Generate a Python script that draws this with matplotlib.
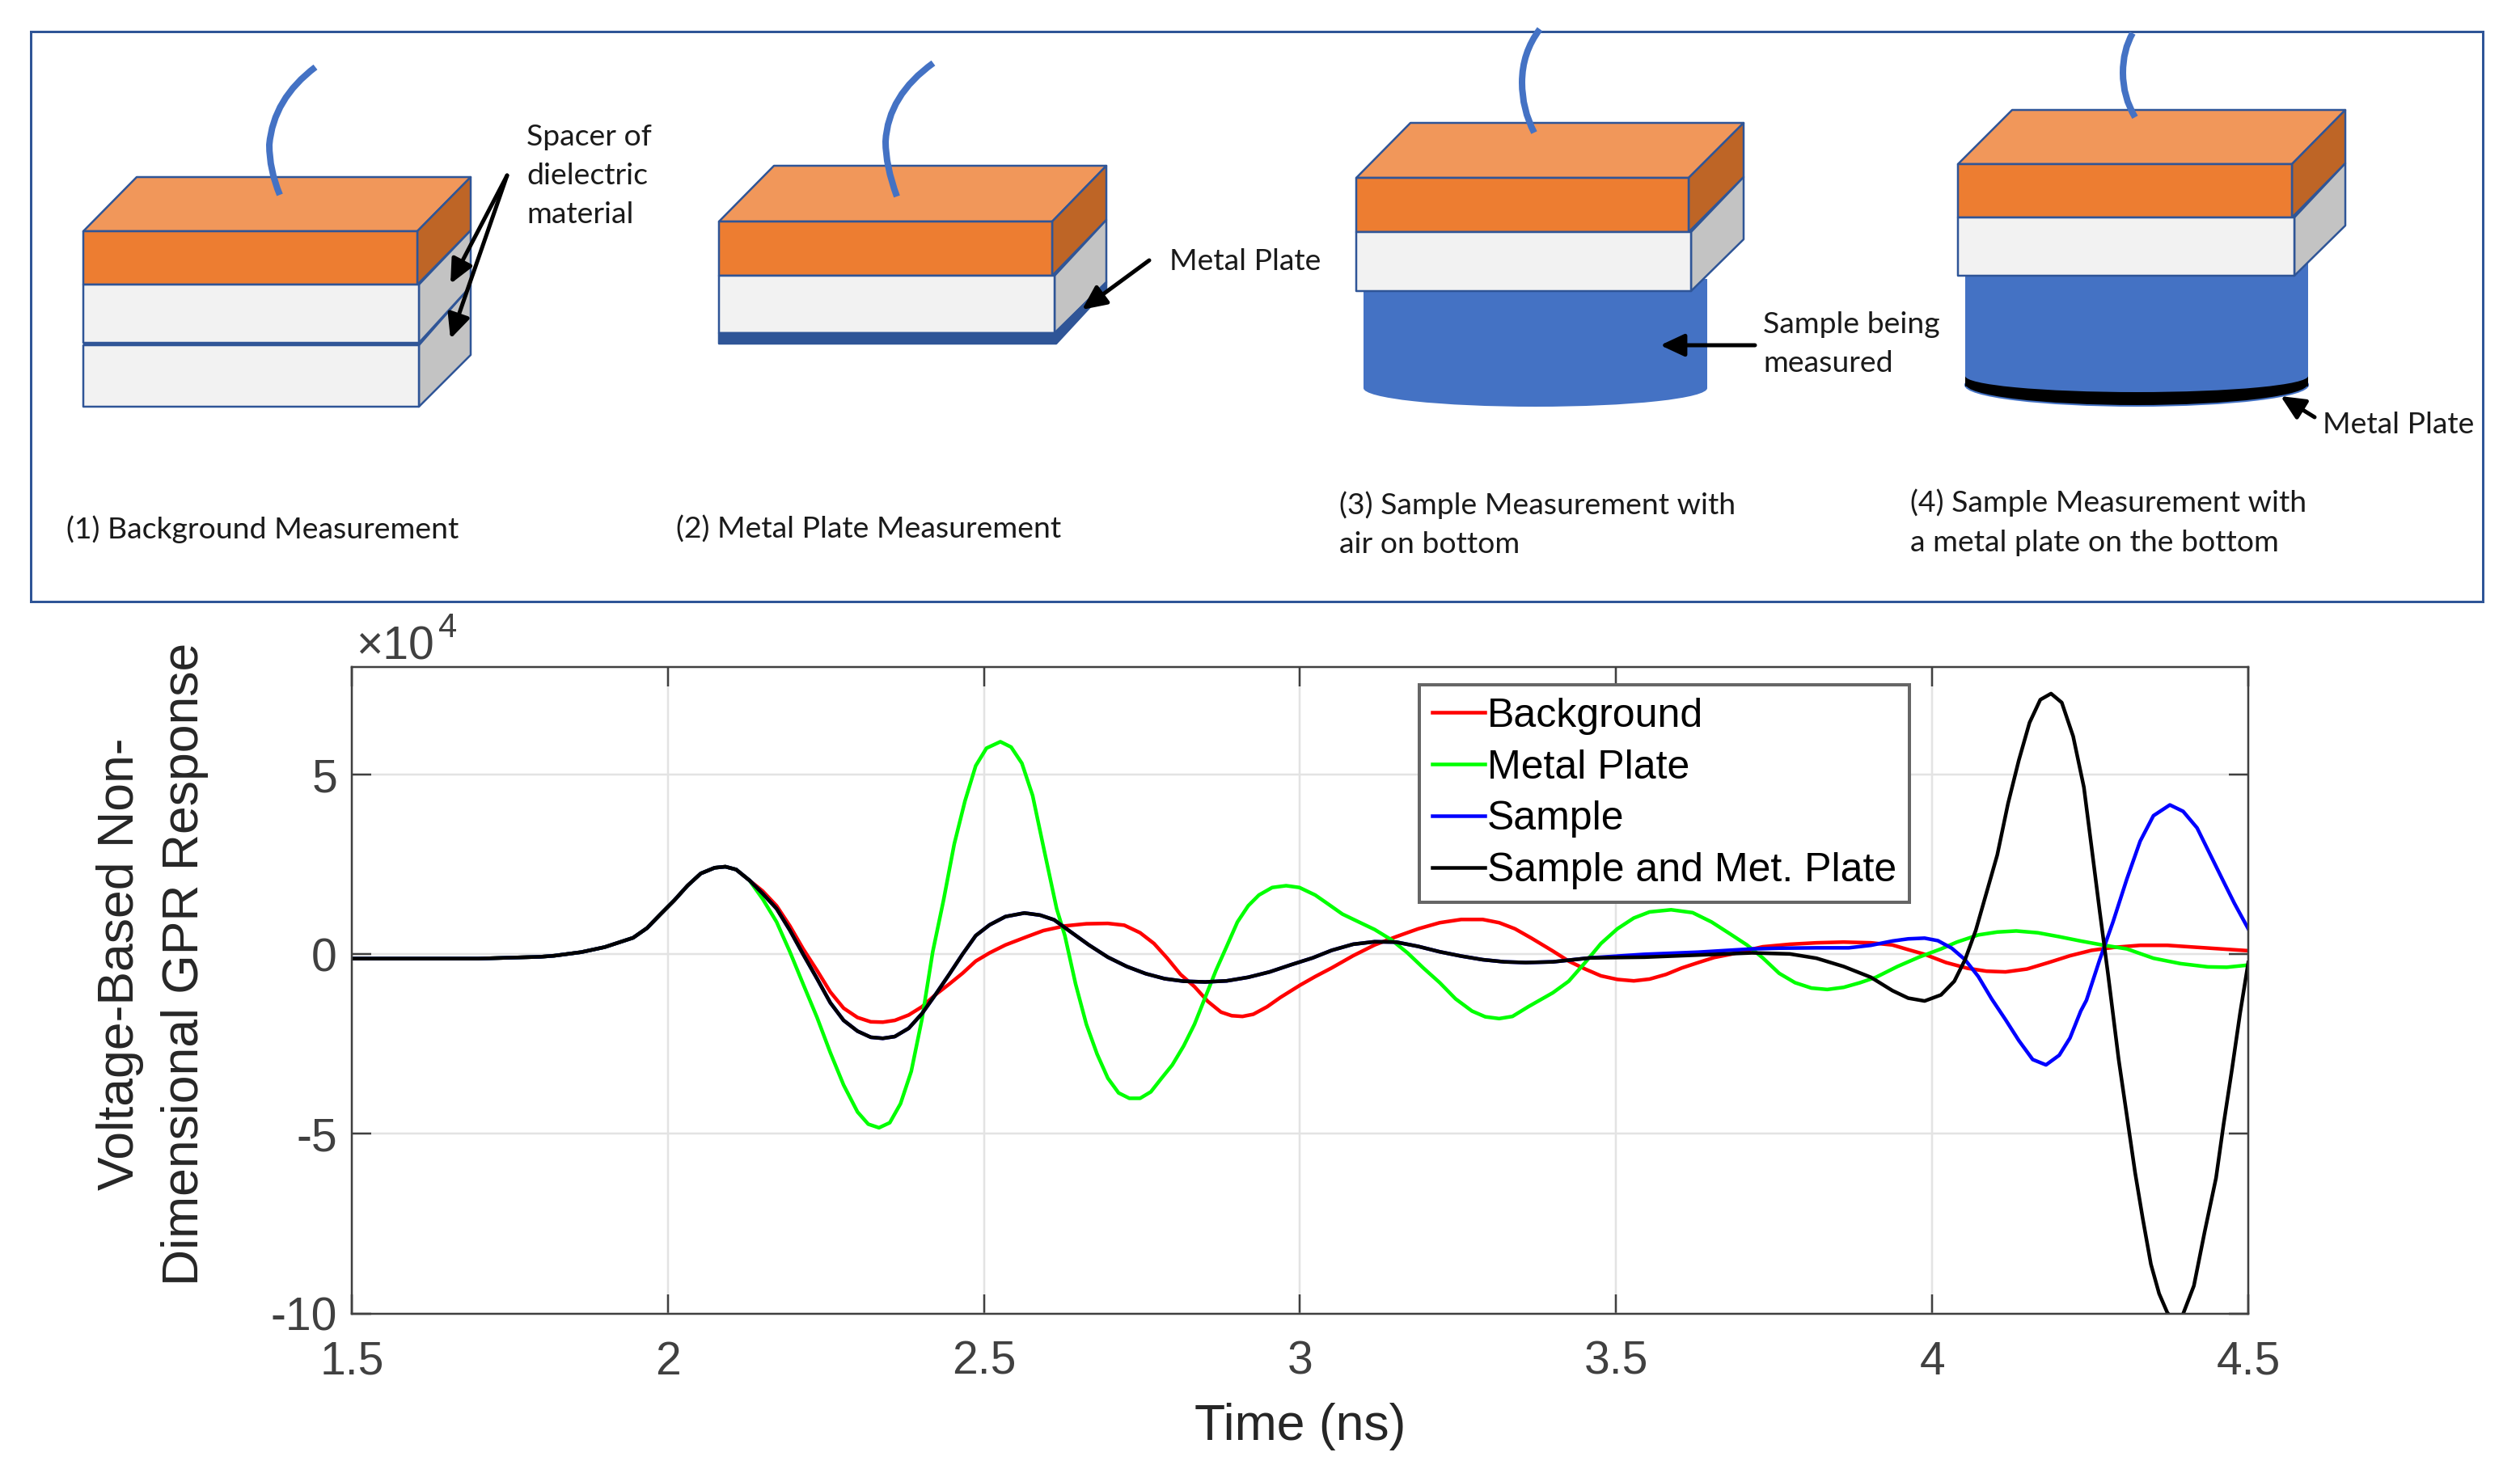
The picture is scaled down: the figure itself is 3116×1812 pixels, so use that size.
import matplotlib
matplotlib.use('Agg')
import matplotlib.pyplot as plt
from matplotlib.patches import Polygon, Rectangle, Ellipse, PathPatch
from matplotlib.path import Path

W, H = 3116, 1812
DPI = 200
px = 72 / DPI

# values, y in units of 1e4
t_rise = [1.5, 1.6, 1.7, 1.798, 1.82, 1.863, 1.9, 1.945, 1.967, 1.988, 2.01, 2.031, 2.052, 2.074, 2.091, 2.108, 2.129]
y_rise = [-0.12, -0.12, -0.12, -0.07, -0.04, 0.06, 0.2, 0.46, 0.73, 1.11, 1.5, 1.91, 2.25, 2.41, 2.44, 2.36, 2.06]

t_red = [2.15, 2.172, 2.193, 2.214, 2.236, 2.257, 2.278, 2.3, 2.321, 2.34, 2.359, 2.381, 2.402, 2.423, 2.445, 2.466,
         2.487, 2.509, 2.534, 2.568, 2.594, 2.628, 2.662, 2.696, 2.722, 2.747, 2.769, 2.79, 2.811, 2.833, 2.854,
         2.875, 2.892, 2.909, 2.926, 2.948, 2.969, 3.0, 3.024, 3.05, 3.084, 3.118, 3.152, 3.187, 3.221, 3.255,
         3.289, 3.315, 3.34, 3.366, 3.4, 3.425, 3.451, 3.476, 3.502, 3.528, 3.553, 3.579, 3.604, 3.63, 3.655,
         3.681, 3.707, 3.732, 3.775, 3.817, 3.86, 3.903, 3.937, 3.962, 3.988, 4.022, 4.056, 4.086, 4.116, 4.15,
         4.184, 4.218, 4.252, 4.286, 4.329, 4.372, 4.414, 4.457, 4.5]
y_red = [1.76, 1.35, 0.79, 0.15, -0.45, -1.05, -1.5, -1.76, -1.88, -1.89, -1.84, -1.69, -1.46, -1.13, -0.83, -0.53,
         -0.19, 0.04, 0.26, 0.49, 0.66, 0.79, 0.85, 0.86, 0.81, 0.6, 0.3, -0.11, -0.56, -0.9, -1.31,
         -1.61, -1.71, -1.73, -1.67, -1.46, -1.2, -0.86, -0.62, -0.38, -0.04, 0.26, 0.49, 0.71, 0.88, 0.97,
         0.97, 0.88, 0.71, 0.45, 0.09, -0.19, -0.41, -0.6, -0.7, -0.74, -0.69, -0.56, -0.38, -0.23, -0.09,
         0.0, 0.11, 0.21, 0.28, 0.32, 0.34, 0.32, 0.26, 0.13, 0.0, -0.23, -0.39, -0.47, -0.49, -0.41,
         -0.23, -0.04, 0.11, 0.19, 0.25, 0.25, 0.2, 0.15, 0.1]

t_green = [2.15, 2.172, 2.193, 2.214, 2.236, 2.257, 2.278, 2.3, 2.317, 2.334, 2.351, 2.368, 2.385, 2.402, 2.419, 2.436,
           2.453, 2.47, 2.487, 2.504, 2.526, 2.543, 2.56, 2.577, 2.594, 2.615, 2.628, 2.645, 2.662, 2.679, 2.696,
           2.713, 2.73, 2.747, 2.764, 2.781, 2.798, 2.816, 2.833, 2.85, 2.867, 2.884, 2.901, 2.918, 2.935, 2.956,
           2.978, 2.999, 3.024, 3.042, 3.067, 3.093, 3.118, 3.144, 3.17, 3.195, 3.221, 3.246, 3.272, 3.293, 3.315,
           3.336, 3.361, 3.383, 3.4, 3.425, 3.451, 3.476, 3.502, 3.528, 3.553, 3.587, 3.621, 3.651, 3.681, 3.707,
           3.732, 3.758, 3.783, 3.809, 3.834, 3.86, 3.886, 3.911, 3.945, 3.979, 4.014, 4.039, 4.073, 4.103, 4.133,
           4.167, 4.201, 4.235, 4.269, 4.308, 4.35, 4.393, 4.436, 4.466, 4.5]
y_green = [1.54, 0.9, 0.07, -0.83, -1.76, -2.74, -3.64, -4.39, -4.73, -4.83, -4.69, -4.16, -3.26, -1.8, 0.07, 1.5,
           3.07, 4.27, 5.25, 5.74, 5.92, 5.77, 5.32, 4.42, 3.0, 1.27, 0.52, -0.83, -1.95, -2.78, -3.45,
           -3.86, -4.01, -4.01, -3.83, -3.45, -3.08, -2.55, -1.95, -1.2, -0.45, 0.22, 0.9, 1.35, 1.65, 1.86,
           1.91, 1.86, 1.65, 1.43, 1.12, 0.9, 0.69, 0.41, 0.04, -0.38, -0.79, -1.24, -1.58, -1.74, -1.79,
           -1.73, -1.46, -1.24, -1.07, -0.75, -0.23, 0.3, 0.71, 1.01, 1.18, 1.24, 1.16, 0.9, 0.56, 0.26,
           -0.1, -0.53, -0.79, -0.94, -0.98, -0.92, -0.79, -0.64, -0.34, -0.08, 0.15, 0.34, 0.54, 0.62, 0.65,
           0.6, 0.49, 0.37, 0.26, 0.15, -0.11, -0.26, -0.35, -0.36, -0.3]

# sample and sample + plate lie on top of each other up to here
t_shared = [2.15, 2.172, 2.193, 2.214, 2.236, 2.257, 2.278, 2.3, 2.321, 2.34, 2.359, 2.381, 2.402, 2.423, 2.445, 2.466,
            2.487, 2.509, 2.534, 2.564, 2.589, 2.611, 2.636, 2.666, 2.696, 2.726, 2.756, 2.786, 2.816, 2.85, 2.884,
            2.918, 2.952, 2.986, 3.02, 3.05, 3.084, 3.118, 3.152, 3.187, 3.221, 3.255, 3.289, 3.323, 3.357, 3.4, 3.459]
y_shared = [1.69, 1.27, 0.67, 0.0, -0.68, -1.35, -1.84, -2.14, -2.31, -2.34, -2.29, -2.06, -1.65, -1.13, -0.56, 0.0,
            0.52, 0.82, 1.05, 1.15, 1.09, 0.96, 0.64, 0.26, -0.08, -0.34, -0.54, -0.68, -0.75, -0.77, -0.74,
            -0.64, -0.49, -0.29, -0.1, 0.11, 0.28, 0.35, 0.34, 0.22, 0.07, -0.05, -0.15, -0.21, -0.23, -0.21, -0.1]

t_blue = [3.545, 3.63, 3.715, 3.758, 3.817, 3.868, 3.903, 3.937, 3.962, 3.988, 4.009, 4.031, 4.052, 4.073, 4.094, 4.116,
          4.137, 4.159, 4.18, 4.201, 4.218, 4.235, 4.244, 4.265, 4.286, 4.308, 4.329, 4.35, 4.376, 4.397, 4.419,
          4.44, 4.461, 4.478, 4.5]
y_blue = [0.0, 0.06, 0.15, 0.17, 0.18, 0.18, 0.25, 0.37, 0.43, 0.45, 0.38, 0.17, -0.15, -0.62, -1.24, -1.82,
          -2.4, -2.93, -3.08, -2.81, -2.33, -1.58, -1.28, -0.15, 0.9, 2.1, 3.15, 3.86, 4.16, 3.98, 3.52,
          2.77, 2.02, 1.42, 0.71]

t_black = [3.545, 3.63, 3.715, 3.775, 3.817, 3.86, 3.903, 3.937, 3.962, 3.988, 4.014, 4.035, 4.052, 4.069, 4.086, 4.103,
           4.12, 4.137, 4.154, 4.171, 4.188, 4.205, 4.223, 4.24, 4.252, 4.265, 4.278, 4.295, 4.308, 4.321, 4.333,
           4.346, 4.359, 4.372, 4.385, 4.397, 4.414, 4.431, 4.449, 4.461, 4.474, 4.487, 4.5]
y_black = [-0.08, -0.02, 0.04, 0.01, -0.11, -0.34, -0.64, -1.01, -1.22, -1.3, -1.13, -0.75, -0.15, 0.67, 1.72, 2.77,
           4.2, 5.4, 6.45, 7.09, 7.26, 7.01, 6.07, 4.65, 3.0, 1.2, -0.53, -2.93, -4.5, -6.08, -7.35,
           -8.63, -9.45, -9.98, -10.24, -10.01, -9.23, -7.73, -6.23, -4.73, -3.23, -1.65, -0.23]

series = [('Background', '#ff0000', t_rise + t_red, y_rise + y_red),
          ('Metal Plate', '#00ff00', t_rise + t_green, y_rise + y_green),
          ('Sample', '#0000ff', t_rise + t_shared + t_blue, y_rise + y_shared + y_blue),
          ('Sample and Met. Plate', '#000000', t_rise + t_shared + t_black, y_rise + y_shared + y_black)]

x_ticks = [1.5, 2, 2.5, 3, 3.5, 4, 4.5]
x_tick_labels = ['1.5', '2', '2.5', '3', '3.5', '4', '4.5']
y_ticks = [-10, -5, 0, 5]
y_tick_labels = ['-10', '-5', '0', '5']

ORANGE, ORANGE_TOP, ORANGE_SIDE = '#ED7D31', '#F1975A', '#BE6526'
WHITE, GREY = '#F2F2F2', '#C3C3C3'
EDGE, BLUE = '#2F5597', '#4472C4'
SANS = 'Liberation Sans'
NOTE = 'Lato'

fig = plt.figure(figsize=(W / DPI, H / DPI), dpi=DPI)

# ---- schematic row, drawn in image pixels
sk = fig.add_axes([0, 0, 1, 1])
sk.set_xlim(0, W)
sk.set_ylim(H, 0)
sk.axis('off')


def poly(points, color, edge=EDGE, lw=2.5, z=2):
    sk.add_patch(Polygon(points, closed=True, facecolor=color, edgecolor=edge,
                         linewidth=lw * px, joinstyle='round', zorder=z))


def wire(start, ctrl1, mid, ctrl2, end):
    path = Path([start, ctrl1, mid, ctrl2, end],
                [Path.MOVETO, Path.CURVE3, Path.CURVE3, Path.CURVE3, Path.CURVE3])
    sk.add_patch(PathPatch(path, facecolor='none', edgecolor=BLUE, linewidth=8 * px, zorder=5))


def arrow(start, end):
    sk.annotate('', xy=end, xytext=start, zorder=8,
                arrowprops=dict(arrowstyle='-|>,head_width=0.42,head_length=0.9', color='black',
                                lw=5 * px, shrinkA=0, shrinkB=0, mutation_scale=10))


def stack(x0, x1, x2, y0, y1, y2, x_back, dx, y_back, side_low):
    # orange block with its lid, then the white spacer below it
    poly([(x0, y0), (x1, y0), (x1 + dx, y_back), (x_back, y_back)], ORANGE_TOP)
    poly([(x1, y0), (x1 + dx, y_back), (x1 + dx, y_back + y1 - y0), (x1, y1)], ORANGE_SIDE)
    poly([(x2, y1), (x1 + dx, y_back + y1 - y0), (x1 + dx, side_low), (x2, y2)], GREY)
    poly([(x0, y0), (x1, y0), (x1, y1), (x0, y1)], ORANGE)
    poly([(x0, y1), (x2, y1), (x2, y2), (x0, y2)], WHITE)


sk.add_patch(Rectangle((38, 39), 3032, 705, facecolor='white', edgecolor=EDGE, linewidth=3 * px, zorder=1))

# (1) background
poly([(518, 427), (582, 354), (582, 439), (518, 503)], GREY)
poly([(103, 427), (518, 427), (518, 503), (103, 503)], WHITE)
stack(103, 516, 518, 286, 352, 424, 169, 66, 219, 354)
poly([(103, 424), (518, 424), (518, 427), (103, 427)], EDGE, lw=1, z=3)
wire((390, 83), (338, 122), (333, 179), (333, 210), (346, 241))

# (2) metal plate
stack(889, 1301, 1304, 274, 341, 412, 957, 67, 205, 349)
poly([(889, 412), (1304, 412), (1368, 349), (1368, 358), (1306, 425), (889, 425)], EDGE, z=3)
wire((1154, 78), (1098, 118), (1095, 175), (1095, 205), (1109, 243))

# (3) sample
sk.add_patch(Rectangle((1686, 345), 425, 135, facecolor=BLUE, edgecolor='none', zorder=1.5))
sk.add_patch(Ellipse((1898.5, 480), 425, 46, facecolor=BLUE, edgecolor='none', zorder=1.5))
stack(1677, 2088, 2091, 220, 287, 360, 1744, 68, 152, 296)
wire((1904, 36), (1882, 65), (1882, 102), (1882, 135), (1897, 164))

# (4) sample over plate
sk.add_patch(Ellipse((2642, 476), 424, 52, facecolor='black', edgecolor=BLUE, linewidth=2 * px, zorder=1.5))
sk.add_patch(Rectangle((2430, 465), 424, 13, facecolor='black', edgecolor='none', zorder=1.5))
sk.add_patch(Rectangle((2430, 320), 424, 145, facecolor=BLUE, edgecolor='none', zorder=1.6))
sk.add_patch(Ellipse((2642, 465), 424, 40, facecolor=BLUE, edgecolor='none', zorder=1.6))
stack(2421, 2834, 2837, 203, 269, 341, 2488, 66, 136, 279)
wire((2637, 41), (2625, 62), (2625, 90), (2625, 120), (2640, 145))

arrow((627, 217), (557, 351))
arrow((627, 217), (557, 419))
arrow((1421, 322), (1338, 383))
arrow((2170, 427), (2053, 427))
arrow((2862, 516), (2820, 490))

note_size = 37.4 * px
notes = [(651, 169, 'Spacer of'), (651, 217, 'dielectric'), (651, 265, 'material'),
         (1446, 323, 'Metal Plate'), (2180, 402, 'Sample being'), (2180, 450, 'measured'),
         (2872, 525, 'Metal Plate'),
         (82, 655, '(1) Background Measurement'), (836, 655, '(2) Metal Plate Measurement'),
         (1656, 625, '(3) Sample Measurement with'), (1656, 673, 'air on bottom'),
         (2362, 622, '(4) Sample Measurement with'), (2362, 671, 'a metal plate on the bottom')]
for nx, ny, label in notes:
    sk.text(nx, ny, label, fontsize=note_size, family=NOTE, color='#1a1a1a', va='center', ha='left', zorder=6)

# ---- response plot
ax = fig.add_axes([435 / W, 1 - 1624.5 / H, (2780 - 435) / W, (1624.5 - 825) / H])
for name, color, t, y in series:
    ax.plot(t, y, color=color, lw=4.5 * px, label=name, solid_joinstyle='round')

ax.set_xlim(1.5, 4.5)
ax.set_ylim(-10, 8)
ax.set_xticks(x_ticks, x_tick_labels)
ax.set_yticks(y_ticks, y_tick_labels)
ax.grid(True, color='#e3e3e3', lw=2.5 * px)
ax.set_axisbelow(True)
ax.tick_params(direction='in', length=24 * px, width=2.5 * px, color='#404040', top=True, right=True,
               labelsize=20.5, labelcolor='#404040')
ax.tick_params(axis='x', pad=12)
ax.tick_params(axis='y', pad=6.5)
for tick_label in ax.get_xticklabels() + ax.get_yticklabels():
    tick_label.set_family(SANS)
for spine in ax.spines.values():
    spine.set_color('#404040')
    spine.set_linewidth(2.5 * px)

leg = ax.legend(loc='upper left', bbox_to_anchor=((1755 - 435) / (2780 - 435), 1 - (847 - 825) / (1624.5 - 825)),
                prop={'family': SANS, 'size': 18}, fancybox=False, framealpha=1, edgecolor='#666666',
                borderaxespad=0, borderpad=0.31, labelspacing=0.36, handlelength=1.3, handletextpad=0.07)
leg.get_frame().set_linewidth(4 * px)
for handle in leg.get_lines():
    handle.set_linewidth(4.5 * px)

sk.text(1608, 1764, 'Time (ns)', fontsize=22.5, family=SANS, color='#262626', ha='center', va='center')
sk.text(149, 1192, 'Voltage-Based Non-', fontsize=22.5, family=SANS, color='#262626', rotation=90, ha='center', va='center')
sk.text(229, 1192, 'Dimensional GPR Response', fontsize=22.5, family=SANS, color='#262626', rotation=90, ha='center', va='center')
sk.text(440, 801, '\u00d710', fontsize=20.5, family=SANS, color='#404040', ha='left', va='center')
sk.text(542, 777, '4', fontsize=15, family=SANS, color='#404040', ha='left', va='center')

fig.savefig('out.png', dpi=DPI)
